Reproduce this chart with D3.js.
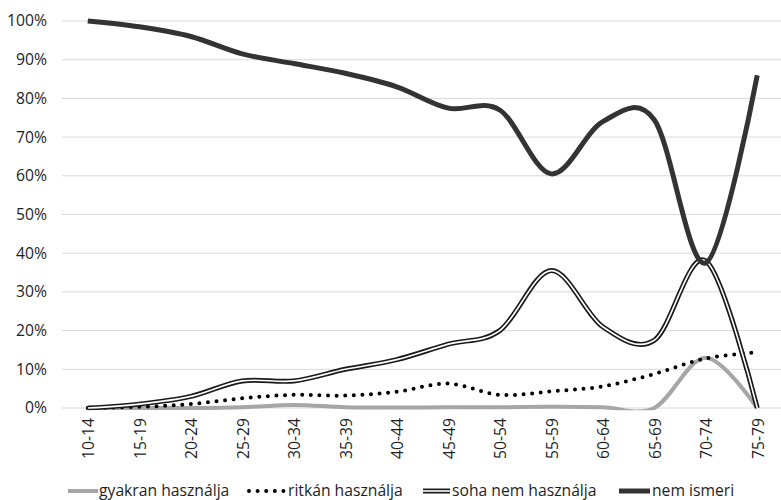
<!DOCTYPE html>
<html><head><meta charset="utf-8">
<script src="https://cdn.jsdelivr.net/npm/d3@7"></script>
<style>body{margin:0;background:#fff}text{font-family:"Open Sans",sans-serif;fill:#1e1e1e}</style>
</head><body>
<svg id="c" width="781" height="500"></svg>
<script>
const categories = ["10-14","15-19","20-24","25-29","30-34","35-39","40-44","45-49","50-54","55-59","60-64","65-69","70-74","75-79"];
const gyakran = [0,0,0,0.2,0.8,0.2,0.1,0.2,0.2,0.3,0.2,0,13,0];
const ritkan = [0,0.3,1,2.5,3.4,3.2,4.2,6.3,3.4,4.3,5.6,8.8,12.8,14.4];
const soha = [0,1,3,7,7,10,12.5,16.5,20,35.5,21,17.5,38,0];
const nemIsmeri = [100,98.5,96,91.5,89,86.5,83,77.5,77,60.5,74,74.5,37.5,86];
const yTicks = [0,10,20,30,40,50,60,70,80,90,100];
const seriesNames = ["gyakran használja","ritkán használja","soha nem használja","nem ismeri"];

const svg = d3.select("#c");
const x = d3.scaleBand().domain(categories).range([62, 783]);
const y = d3.scaleLinear().domain([0,100]).range([408, 21]);
const cx = d => x(d) + x.bandwidth()/2;
const FS = "15.7px";

svg.append("defs").append("clipPath").attr("id","plot")
  .append("rect").attr("x",62).attr("y",0).attr("width",720).attr("height",y(0)+2.2);

// grid
svg.append("g").selectAll("line").data(yTicks).join("line")
  .attr("x1",62).attr("x2",781).attr("y1",d=>y(d)).attr("y2",d=>y(d))
  .attr("stroke","#d9d9d9").attr("stroke-width",1);
// y labels
svg.append("g").selectAll("text").data(yTicks).join("text")
  .attr("x",47).attr("y",d=>y(d)).attr("dy","0.35em").attr("text-anchor","end")
  .style("font-size",FS).text(d=>d+"%");
// x labels
svg.append("g").selectAll("text").data(categories).join("text")
  .attr("transform",d=>`translate(${cx(d)+1},418) rotate(-90)`)
  .attr("text-anchor","end").attr("dy","0.35em")
  .style("font-size",FS).text(d=>d);

const line = d3.line().x((d,i)=>cx(categories[i])).y(d=>y(d)).curve(d3.curveCardinal.tension(0));
const g = svg.append("g").attr("clip-path","url(#plot)");
g.append("path").attr("d",line(gyakran)).attr("fill","none").attr("stroke","#a6a6a6").attr("stroke-width",4);
g.append("path").attr("d",line(ritkan)).attr("fill","none").attr("stroke","#000").attr("stroke-width",4)
  .attr("stroke-linecap","round").attr("stroke-dasharray","0,8.6");
g.append("path").attr("d",line(soha)).attr("fill","none").attr("stroke","#1a1a1a").attr("stroke-width",5);
g.append("path").attr("d",line(soha)).attr("fill","none").attr("stroke","#fff").attr("stroke-width",1.6);
g.append("path").attr("d",line(nemIsmeri)).attr("fill","none").attr("stroke","#333").attr("stroke-width",5);

// legend
const leg = svg.append("g");
const items = [
  {x1:68,x2:98,tx:99},
  {x1:249,x2:285,tx:288},
  {x1:423,x2:450,tx:452},
  {x1:619,x2:650,tx:652}
];
const ly = 491;
leg.append("line").attr("x1",items[0].x1).attr("x2",items[0].x2).attr("y1",ly).attr("y2",ly).attr("stroke","#a6a6a6").attr("stroke-width",4);
leg.append("line").attr("x1",items[1].x1).attr("x2",items[1].x2+1).attr("y1",ly).attr("y2",ly).attr("stroke","#000").attr("stroke-width",4).attr("stroke-linecap","round").attr("stroke-dasharray","0,8.6");
leg.append("line").attr("x1",items[2].x1).attr("x2",items[2].x2).attr("y1",ly).attr("y2",ly).attr("stroke","#1a1a1a").attr("stroke-width",5);
leg.append("line").attr("x1",items[2].x1).attr("x2",items[2].x2).attr("y1",ly).attr("y2",ly).attr("stroke","#fff").attr("stroke-width",1.6);
leg.append("line").attr("x1",items[3].x1).attr("x2",items[3].x2).attr("y1",ly).attr("y2",ly).attr("stroke","#333").attr("stroke-width",5);
leg.selectAll("text").data(seriesNames).join("text")
  .attr("x",(d,i)=>items[i].tx).attr("y",ly).attr("dy","0.35em")
  .style("font-size",FS).text(d=>d);
</script>
</body></html>
